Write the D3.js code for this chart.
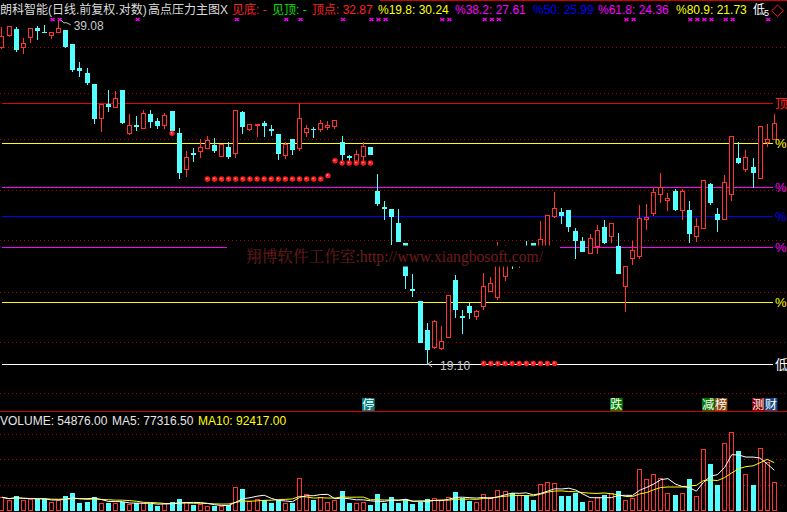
<!DOCTYPE html>
<html><head><meta charset="utf-8">
<script src="https://cdn.jsdelivr.net/npm/d3@7"></script>
<style>
html,body{margin:0;padding:0;background:#000;overflow:hidden}
svg{display:block}
</style></head><body>
<svg id="c" width="787" height="512"></svg>
<script>
// ---------- data ----------
const opens=[36.95,37.86,38.34,36.95,37.73,38.39,38.13,37.84,38.08,38.26,
37.16,35.37,34.99,34.19,31.88,32.82,32.62,33.77,30.90,31.40,
31.22,32.13,31.66,31.42,32.33,30.86,28.65,29.60,29.75,29.95,
30.12,29.46,29.99,29.60,32.26,31.16,31.37,31.51,31.11,30.82,
29.53,30.50,29.93,30.96,31.16,31.15,31.29,31.35,30.31,29.45,
29.15,29.46,29.99,27.37,26.46,26.36,25.61,24.55,22.32,21.77,
20.50,19.78,19.76,20.22,22.75,21.10,21.55,21.12,21.56,22.25,
21.97,22.95,24.11,23.52,24.31,24.58,24.21,24.21,26.00,26.19,
26.31,25.19,24.67,24.04,24.43,25.40,24.94,24.39,22.48,23.82,
23.93,25.81,26.16,27.22,26.85,27.37,26.33,26.31,24.94,25.33,
27.77,26.08,25.81,27.18,29.31,28.63,28.79,28.10,30.33,30.48];
const highs=[38.47,38.58,38.47,37.60,38.39,38.58,38.66,38.10,39.08,38.26,
37.16,35.80,35.35,34.19,32.78,33.77,33.70,33.77,32.13,31.99,
32.39,32.39,31.86,32.19,32.33,31.18,29.75,29.91,30.48,30.69,
30.58,30.16,30.29,32.37,32.33,31.44,31.47,31.66,31.38,30.82,
30.31,30.50,32.87,31.37,31.27,31.71,31.65,31.72,30.69,29.50,
29.81,30.30,29.99,28.36,26.81,26.36,26.36,24.55,23.03,21.77,
20.79,20.93,20.68,22.05,22.98,21.37,21.70,21.37,23.08,22.89,
24.63,24.45,24.31,24.21,24.67,24.58,25.72,26.02,27.30,26.40,
26.31,25.36,24.89,25.03,25.50,25.77,25.61,25.07,23.42,24.68,
26.59,26.64,27.52,28.43,27.24,27.48,27.47,26.81,25.89,28.00,
27.83,26.43,28.30,30.69,30.31,29.81,29.31,31.33,31.47,32.13];
const lows=[36.83,37.79,36.65,36.50,37.34,37.55,38.08,37.65,38.08,36.93,
35.15,34.79,34.22,31.55,31.03,32.35,32.62,31.55,30.84,31.07,
31.22,31.29,31.18,31.18,31.07,28.10,28.26,29.15,29.40,29.95,
29.68,29.46,29.33,29.38,30.85,31.07,30.69,30.69,30.75,29.27,
29.33,29.58,29.81,30.71,30.62,31.03,31.11,31.20,29.18,29.21,
29.15,29.14,29.54,26.59,25.82,24.51,24.67,22.37,22.02,20.01,
19.10,19.73,19.70,20.22,21.07,20.39,21.03,20.98,21.41,22.25,
21.85,22.75,23.32,23.35,23.61,23.71,24.10,24.15,25.95,25.63,
25.20,23.82,24.16,24.04,24.04,24.55,24.63,23.10,21.34,23.52,
23.82,25.30,26.04,26.77,26.31,26.31,25.81,24.63,24.68,25.33,
26.63,25.20,25.81,26.86,29.01,28.53,27.62,28.10,30.08,30.48];
const closes=[37.79,38.58,36.78,37.24,38.39,38.28,38.08,38.10,38.42,37.01,
35.28,35.18,34.34,31.88,32.78,32.69,33.19,31.62,31.40,31.31,
32.19,31.68,31.40,32.06,31.07,28.49,29.36,29.54,29.97,30.43,
29.81,30.16,29.46,32.37,31.35,31.44,31.47,31.43,31.05,29.64,
30.18,29.89,31.84,31.19,31.11,31.52,31.38,31.72,29.56,29.39,
29.56,30.06,29.54,26.70,26.42,25.96,24.67,22.98,22.28,20.01,
19.70,20.89,20.04,22.05,21.43,21.07,21.28,21.33,22.46,22.61,
23.96,24.31,23.52,23.96,23.81,23.91,24.76,26.02,26.40,26.05,
25.47,24.72,24.16,24.81,25.24,24.60,25.61,23.10,23.42,24.21,
25.89,25.93,27.31,27.58,26.97,26.36,27.37,25.10,25.45,28.00,
26.77,25.81,27.91,30.69,29.07,29.38,28.49,31.33,30.48,31.53];
const volumes=[25000,19700,27600,19700,21100,21100,21100,15700,19700,27600,
33500,14400,16300,25000,14400,14400,13200,15200,11800,13200,
13200,11800,7900,13200,15200,21100,15200,9800,11800,7300,
7900,7300,9800,44700,40700,18300,22200,19700,14400,19700,
13200,14400,62400,30900,19700,25000,15700,19700,37400,13200,
14400,15700,9800,31500,14400,25000,14400,21100,11800,16300,
21100,23000,19700,25000,35400,23000,18300,15700,31500,25000,
39400,37400,32900,29500,29500,19700,51200,55100,53100,27600,
27600,32900,15700,18300,25000,29500,32900,37400,19700,24200,
80100,61000,70900,63000,33500,29500,33500,61000,27600,120100,
90600,49200,131300,153500,116100,70900,49200,121500,95100,54876];
// reference levels
const levelValues=[32.87,30.24,27.61,25.99,24.36,21.73,19.10];
const levelNames=["顶点","%19.8","%38.2","%50","%61.8","%80.9","低点"];
const levelMarks=["顶","%","%","%","%","%","低"];
const levelColors=["#e80000","#ffff00","#ff00ff","#0000ff","#ff00ff","#ffff00","#ffffff"];
const priceGrid=[36.91,33.54,30.48,27.43,24.72,22.20,19.98,17.98];
const volumeGrid=[50000,100000,150000];
// signals
const signalIndex=[24,29,30,31,32,33,34,35,36,37,38,39,40,41,42,43,44,45,46,47,48,49,50,51,52,
68,69,70,71,72,73,74,75,76,77,78];
const signalPrice=[30.86,28.06,28.06,28.06,28.06,28.06,28.06,28.06,28.06,28.06,28.06,28.06,28.06,28.06,28.06,28.06,28.06,28.06,28.26,29.15,29.01,29.01,29.01,29.01,29.01,
19.12,19.12,19.12,19.12,19.12,19.12,19.12,19.12,19.12,19.12,19.12];
const crossIndex=[7,8,19,33,40,42,48,52,53,54,62,63,68,69,70,88,89,97,98,99,100,102,103,108];
const eventIndex=[52,87,100,107];
const eventText=[["停"],["跌"],["减","榜"],["测","财"]];
const eventColors=[["#008080"],["#008000"],["#007a00","#8a4a10"],["#800000","#104a8a"]];
const stockTitle="朗科智能(日线.前复权.对数)";
const indicatorTitle="高点压力主图X";
const highLabel="39.08", lowLabel="19.10";
const volLast=54876.00, ma5Last=77316.50, ma10Last=92417.00;

// ---------- scales ----------
const W=787,H=512;
const svg=d3.select('#c');
svg.append('rect').attr('width',W).attr('height',H).attr('fill','#000');
const n=opens.length;
const x=d3.scaleBand().domain(d3.range(n)).range([-1.543,777.8]).paddingInner(0.294).paddingOuter(0.147);
const cx=i=>x(i)+x.bandwidth()/2;
const left=i=>Math.round(cx(i)-2.5);
const y=d3.scaleLog().domain([32.87,19.10]).range([103,364]);
const yv=d3.scaleLinear().domain([0,150000]).range([510,433.8]);
const FONT="'Liberation Sans','Noto Sans CJK SC',sans-serif";
const RED="#ff3232", CYAN="#54ffff";

const g=svg.append('g').attr('shape-rendering','crispEdges');
// dotted grids
g.selectAll('.pg').data(priceGrid).join('line')
 .attr('x1',0).attr('x2',W).attr('y1',d=>Math.round(y(d))+0.5).attr('y2',d=>Math.round(y(d))+0.5)
 .attr('stroke','#b00000').attr('stroke-dasharray','1,3');
g.selectAll('.vg').data(volumeGrid).join('line')
 .attr('x1',0).attr('x2',W).attr('y1',d=>Math.round(yv(d))+0.5).attr('y2',d=>Math.round(yv(d))+0.5)
 .attr('stroke','#b00000').attr('stroke-dasharray','1,3');
// separators
g.append('line').attr('x1',0).attr('x2',W).attr('y1',411.5).attr('y2',411.5).attr('stroke','#d00000');
g.append('line').attr('x1',380).attr('x2',W).attr('y1',0.5).attr('y2',0.5).attr('stroke','#d00000');
// level lines
g.selectAll('.lv').data(levelValues).join('line')
 .attr('x1',2).attr('x2',773).attr('y1',d=>Math.round(y(d))+0.5).attr('y2',d=>Math.round(y(d))+0.5)
 .attr('stroke',(d,i)=>levelColors[i]);

// candles
const idx=d3.range(n);
const cg=svg.append('g').attr('shape-rendering','crispEdges');
idx.forEach(i=>{
  const o=opens[i],c=closes[i],h=highs[i],l=lows[i];
  const up=c>=o;
  const col=up?RED:CYAN;
  const L=left(i), mx=L+2.5;
  const top=Math.round(y(Math.max(o,c))), bot=Math.round(y(Math.min(o,c)));
  const yh=Math.round(y(h)), yl=Math.round(y(l));
  if(yh<top) cg.append('line').attr('x1',mx).attr('x2',mx).attr('y1',yh).attr('y2',top).attr('stroke',col);
  if(yl>bot) cg.append('line').attr('x1',mx).attr('x2',mx).attr('y1',bot+1).attr('y2',yl+1).attr('stroke',col);
  if(bot-top<=1){
    cg.append('rect').attr('x',L).attr('y',top).attr('width',5).attr('height',Math.max(1,bot-top+1)).attr('fill',col);
  } else if(up){
    cg.append('rect').attr('x',L+0.5).attr('y',top+0.5).attr('width',4).attr('height',bot-top).attr('fill','#000').attr('stroke',col);
  } else {
    cg.append('rect').attr('x',L).attr('y',top).attr('width',5).attr('height',bot-top+1).attr('fill',col);
  }
  // volume
  const vt=Math.round(yv(volumes[i]));
  if(up) cg.append('rect').attr('x',L+0.5).attr('y',vt+0.5).attr('width',4).attr('height',510-vt).attr('fill','none').attr('stroke',RED);
  else cg.append('rect').attr('x',L).attr('y',vt).attr('width',5).attr('height',511-vt).attr('fill',CYAN);
});

// volume MAs
function ma(arr,k){return arr.map((v,i)=>d3.mean(arr.slice(Math.max(0,i-k+1),i+1)));}
const ma5=ma(volumes,5), ma10=ma(volumes,10);
const line=d3.line().x((d,i)=>cx(i)).y(d=>yv(d));
svg.append('path').attr('d',line(ma10)).attr('fill','none').attr('stroke','#ffff00').attr('stroke-width',1);
svg.append('path').attr('d',line(ma5)).attr('fill','none').attr('stroke','#ffffff').attr('stroke-width',1);

// watermark box
svg.append('rect').attr('x',227).attr('y',245.5).attr('width',333).attr('height',21).attr('fill','#000');
svg.append('text').attr('x',246).attr('y',262).attr('font-family',"'Liberation Serif','Noto Serif CJK SC','Noto Sans CJK SC',serif")
 .attr('font-size',16).attr('fill','#701c1c').attr('textLength',297).attr('lengthAdjust','spacingAndGlyphs')
 .text('翔博软件工作室:http://www.xiangbosoft.com/');

// signal dots
svg.selectAll('.sd').data(signalIndex).join('circle')
 .attr('cx',d=>cx(d)).attr('cy',(d,k)=>y(signalPrice[k])).attr('r',2.7).attr('fill','#ff1a1a');
svg.selectAll('.sd2').data(signalIndex).join('circle')
 .attr('cx',d=>cx(d)-0.5).attr('cy',(d,k)=>y(signalPrice[k])-0.5).attr('r',0.8).attr('fill','#ffb0b0');

// magenta crosses
svg.selectAll('.cr').data(crossIndex).join('path')
 .attr('d',d=>{const a=cx(d)+1,b=19.5;return `M${a-2},${b-1.6}L${a+2},${b+1.6}M${a+2},${b-1.6}L${a-2},${b+1.6}`;})
 .attr('stroke','#ff00ff').attr('stroke-width',1.3).attr('fill','none');

// high / low annotations
const hi=highs.indexOf(d3.max(highs)), lo=lows.indexOf(d3.min(lows));
svg.append('path').attr('d',`M${cx(hi)+2},${y(highs[hi])}L${cx(hi)+5},${y(highs[hi])+3}L${cx(hi)+8},${y(highs[hi])+3}L${cx(hi)+12},${y(highs[hi])+5}`)
 .attr('stroke','#c8c8c8').attr('fill','none');
svg.append('text').attr('x',cx(hi)+15).attr('y',y(highs[hi])+10).attr('font-family',FONT).attr('font-size',12).attr('fill','#c8c8c8').text(highLabel);
svg.append('path').attr('d',`M${cx(lo)+5},${y(lows[lo])-3}L${cx(lo)+1},${y(lows[lo])}L${cx(lo)+5},${y(lows[lo])+3}`)
 .attr('stroke','#c8c8c8').attr('fill','none');
svg.append('text').attr('x',cx(lo)+13).attr('y',y(lows[lo])+6).attr('font-family',FONT).attr('font-size',12).attr('fill','#c8c8c8').text(lowLabel);

// right level marks
svg.selectAll('.lm').data(levelValues).join('text')
 .attr('x',775).attr('y',d=>y(d)+5).attr('font-family',FONT).attr('font-size',13)
 .attr('fill',(d,i)=>levelColors[i]==="#e80000"?"#ff2020":levelColors[i]).text((d,i)=>levelMarks[i]);

// events
eventIndex.forEach((ei,k)=>{
  const x0=Math.round(cx(ei))-8;
  eventText[k].forEach((t,j)=>{
    svg.append('rect').attr('x',x0+j*12.7).attr('y',398).attr('width',12.7).attr('height',13).attr('fill',eventColors[k][j]);
    svg.append('text').attr('x',x0+j*12.7+6.35).attr('y',409).attr('text-anchor','middle').attr('font-family',FONT)
      .attr('font-size',12).attr('fill','#ffffff').text(t);
  });
});

// header
const hdr=[
 {t:stockTitle,x:0,c:'#dcdcdc'},
 {t:indicatorTitle,x:148,c:'#dcdcdc'},
 {t:'见底: -',x:232,c:'#ff2020'},
 {t:'见顶: -',x:272,c:'#00e000'},
 {t:levelNames[0].replace('顶点','顶点')+': '+levelValues[0].toFixed(2),x:312,c:'#ff2020'},
 {t:levelNames[1]+': '+levelValues[1].toFixed(2),x:378,c:'#ffff00'},
 {t:levelNames[2]+': '+levelValues[2].toFixed(2),x:455,c:'#ff00ff'},
 {t:levelNames[3]+': '+levelValues[3].toFixed(2),x:533,c:'#0000ff'},
 {t:levelNames[4]+': '+levelValues[4].toFixed(2),x:598,c:'#ff00ff'},
 {t:levelNames[5]+': '+levelValues[5].toFixed(2),x:676,c:'#ffff00'},
 {t:'低',x:753,c:'#ffffff'}
];
svg.selectAll('.hd').data(hdr).join('text').attr('x',d=>d.x).attr('y',14).attr('font-family',FONT).attr('font-size',12)
 .attr('fill',d=>d.c).text(d=>d.t);
svg.append('text').attr('x',764).attr('y',16).attr('font-family',FONT).attr('font-size',9).attr('fill','#ffffff').text('5');
svg.append('path').attr('d','M777.5,5L783.3,10.8L777.5,16.6L771.7,10.8Z').attr('fill','none').attr('stroke','#ff2020');

// volume header
const vh=[
 {t:'VOLUME: '+volLast.toFixed(2),x:0,c:'#e6e6e6'},
 {t:'MA5: '+ma5Last.toFixed(2),x:112,c:'#e6e6e6'},
 {t:'MA10: '+ma10Last.toFixed(2),x:198,c:'#ffff00'}
];
svg.selectAll('.vh').data(vh).join('text').attr('x',d=>d.x).attr('y',425).attr('font-family',FONT).attr('font-size',12)
 .attr('fill',d=>d.c).text(d=>d.t);
</script>
</body></html>
